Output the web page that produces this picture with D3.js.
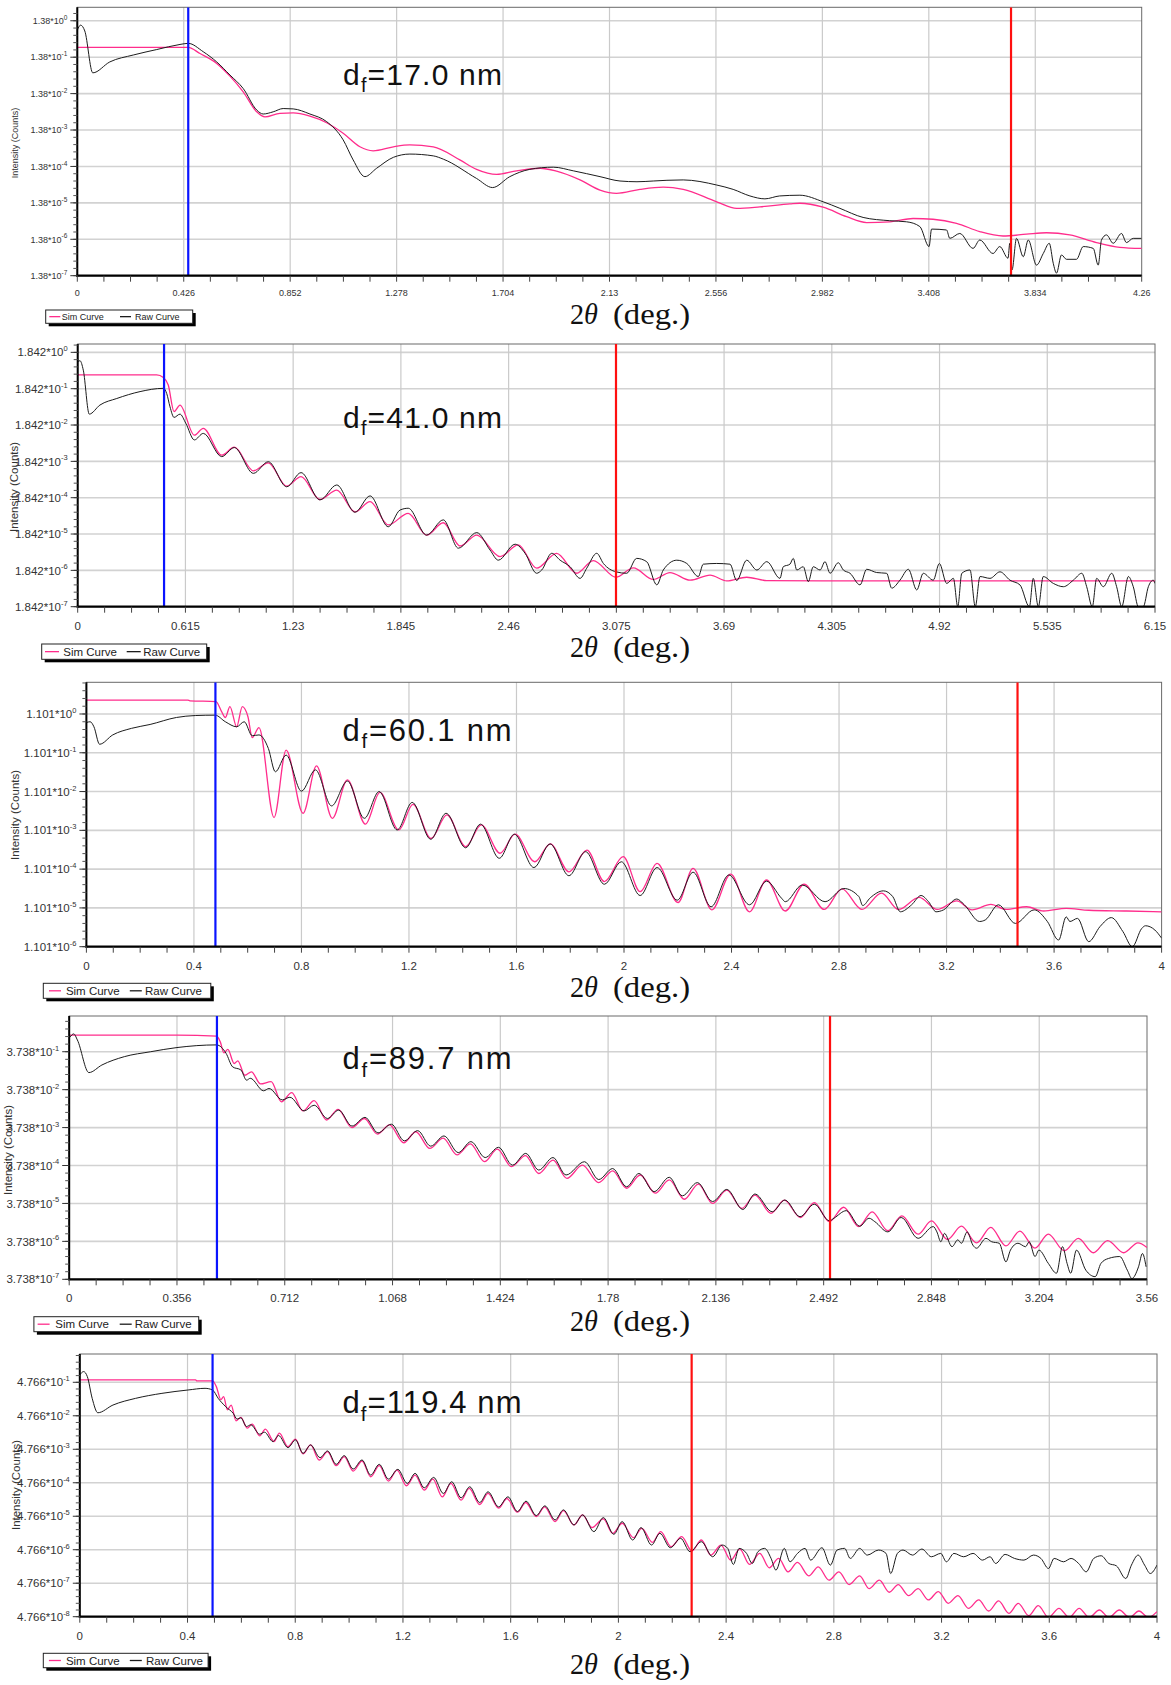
<!DOCTYPE html>
<html><head><meta charset="utf-8">
<script src="https://cdn.jsdelivr.net/npm/d3@7"></script>
<style>
body{margin:0;background:#fff}
svg{display:block}
text{font-family:"Liberation Sans",Arial,sans-serif}
</style>
</head><body>
<script>
// ---------- DATA (x = 2θ in deg, y = log10(I / base)) ----------
const dfValues = ["17.0", "41.0", "60.1", "89.7", "119.4"];
const yBases = ["1.38", "1.842", "1.101", "3.738", "4.766"];
const yExponents = [[0,-1,-2,-3,-4,-5,-6,-7],[0,-1,-2,-3,-4,-5,-6,-7],[0,-1,-2,-3,-4,-5,-6],[-1,-2,-3,-4,-5,-6,-7],[-1,-2,-3,-4,-5,-6,-7,-8]];
const xTickLabels = [
 ["0","0.426","0.852","1.278","1.704","2.13","2.556","2.982","3.408","3.834","4.26"],
 ["0","0.615","1.23","1.845","2.46","3.075","3.69","4.305","4.92","5.535","6.15"],
 ["0","0.4","0.8","1.2","1.6","2","2.4","2.8","3.2","3.6","4"],
 ["0","0.356","0.712","1.068","1.424","1.78","2.136","2.492","2.848","3.204","3.56"],
 ["0","0.4","0.8","1.2","1.6","2","2.4","2.8","3.2","3.6","4"]
];
const blueMarkers = [0.444, 0.493, 0.480, 0.488, 0.493];
const redMarkers = [3.737, 3.073, 3.464, 2.513, 2.272];

const p1Sim = [[0,-0.73],[0.444,-0.73],[0.491,-0.90],[0.558,-1.17],[0.611,-1.52],[0.664,-1.95],[0.718,-2.50],[0.751,-2.64],[0.811,-2.54],[0.864,-2.53],[0.931,-2.62],[0.998,-2.80],[1.064,-3.09],[1.131,-3.46],[1.184,-3.57],[1.265,-3.46],[1.331,-3.41],[1.425,-3.46],[1.531,-3.82],[1.598,-4.08],[1.678,-4.22],[1.758,-4.12],[1.852,-4.05],[1.918,-4.13],[2.012,-4.37],[2.092,-4.65],[2.158,-4.74],[2.252,-4.63],[2.345,-4.57],[2.425,-4.63],[2.559,-4.97],[2.639,-5.15],[2.732,-5.11],[2.852,-5.03],[2.892,-5.01],[2.985,-5.12],[3.079,-5.38],[3.159,-5.54],[3.252,-5.52],[3.345,-5.43],[3.425,-5.45],[3.519,-5.56],[3.612,-5.79],[3.705,-5.91],[3.799,-5.86],[3.879,-5.82],[3.972,-5.88],[4.079,-6.09],[4.172,-6.22],[4.26,-6.25]];
const p1Raw = [[0,-0.26],[0.013,-0.12],[0.03,-0.28],[0.062,-1.43],[0.13,-1.13],[0.224,-0.94],[0.318,-0.79],[0.411,-0.65],[0.444,-0.62],[0.504,-0.85],[0.558,-1.13],[0.611,-1.49],[0.664,-1.86],[0.718,-2.45],[0.744,-2.56],[0.784,-2.50],[0.824,-2.41],[0.864,-2.42],[0.931,-2.56],[0.998,-2.77],[1.064,-3.27],[1.104,-3.82],[1.151,-4.28],[1.198,-4.05],[1.265,-3.75],[1.331,-3.66],[1.425,-3.71],[1.465,-3.80],[1.598,-4.33],[1.662,-4.58],[1.731,-4.28],[1.811,-4.08],[1.905,-4.02],[1.985,-4.12],[2.092,-4.28],[2.172,-4.40],[2.24,-4.42],[2.305,-4.40],[2.36,-4.38],[2.425,-4.37],[2.559,-4.51],[2.625,-4.63],[2.692,-4.81],[2.752,-4.89],[2.811,-4.81],[2.892,-4.79],[2.985,-4.97],[3.052,-5.15],[3.145,-5.40],[3.252,-5.49],[3.319,-5.52],[3.372,-5.65],[3.409,-6.20],[3.419,-5.72],[3.479,-5.745],[3.492,-5.975],[3.532,-5.84],[3.585,-6.25],[3.612,-6.02],[3.665,-6.39],[3.692,-6.20],[3.725,-6.52],[3.732,-6.11],[3.741,-6.84],[3.759,-5.975],[3.786,-6.48],[3.806,-6.02],[3.839,-6.71],[3.866,-6.39],[3.890,-6.11],[3.906,-6.66],[3.919,-6.93],[3.939,-6.43],[3.959,-6.55],[3.999,-6.55],[4.026,-6.20],[4.066,-6.25],[4.086,-6.71],[4.099,-6.02],[4.119,-5.88],[4.146,-6.11],[4.179,-5.84],[4.199,-6.09],[4.226,-5.975],[4.259,-5.975]];

const p2Sim = [[0,-0.62],[0.451,-0.62],[0.489,-0.69],[0.517,-0.90],[0.55,-1.63],[0.584,-1.45],[0.666,-2.28],[0.717,-2.09],[0.822,-2.83],[0.894,-2.61],[1.003,-3.26],[1.088,-3.04],[1.193,-3.68],[1.275,-3.42],[1.383,-4.05],[1.479,-3.79],[1.583,-4.39],[1.669,-4.11],[1.773,-4.75],[1.887,-4.43],[1.992,-5.03],[2.087,-4.69],[2.183,-5.33],[2.278,-5.03],[2.411,-5.62],[2.515,-5.30],[2.62,-5.94],[2.734,-5.53],[2.849,-6.08],[2.943,-5.73],[3.073,-6.19],[3.172,-5.93],[3.286,-6.25],[3.381,-6.06],[3.496,-6.27],[3.61,-6.13],[3.705,-6.29],[3.819,-6.19],[3.934,-6.28],[4.3,-6.29],[5.0,-6.29],[6.15,-6.29]];
const p2Raw = [[0,-0.26],[0.013,-0.23],[0.032,-0.49],[0.066,-1.70],[0.127,-1.45],[0.223,-1.27],[0.356,-1.08],[0.489,-0.99],[0.508,-1.13],[0.527,-1.50],[0.55,-1.79],[0.584,-1.70],[0.617,-1.95],[0.666,-2.41],[0.717,-2.23],[0.822,-2.87],[0.894,-2.62],[1.003,-3.33],[1.088,-3.01],[1.193,-3.70],[1.275,-3.31],[1.383,-4.06],[1.479,-3.65],[1.583,-4.40],[1.669,-3.95],[1.773,-4.80],[1.84,-4.34],[1.887,-4.29],[1.992,-5.03],[2.087,-4.61],[2.173,-5.39],[2.278,-4.96],[2.354,-5.44],[2.401,-5.72],[2.497,-5.28],[2.554,-5.53],[2.62,-6.08],[2.649,-5.99],[2.706,-5.53],[2.754,-5.72],[2.811,-5.90],[2.868,-6.22],[2.906,-5.94],[2.963,-5.53],[3.001,-5.81],[3.073,-6.04],[3.134,-6.08],[3.191,-5.67],[3.248,-5.76],[3.306,-6.40],[3.343,-5.99],[3.42,-5.72],[3.477,-5.81],[3.543,-6.17],[3.571,-5.83],[3.648,-5.81],[3.724,-5.83],[3.762,-6.28],[3.819,-5.72],[3.877,-5.99],[3.934,-5.76],[4.009,-6.22],[4.028,-5.90],[4.066,-5.83],[4.085,-5.67],[4.105,-5.99],[4.142,-5.90],[4.171,-6.31],[4.199,-5.90],[4.238,-5.99],[4.266,-5.76],[4.295,-6.08],[4.342,-5.79],[4.371,-5.99],[4.409,-6.08],[4.466,-6.40],[4.504,-5.97],[4.561,-6.06],[4.618,-6.08],[4.647,-6.49],[4.694,-6.27],[4.742,-5.97],[4.79,-6.54],[4.827,-6.08],[4.884,-6.27],[4.919,-5.81],[4.961,-6.36],[4.999,-6.22],[5.024,-7.0],[5.047,-6.08],[5.094,-5.99],[5.124,-7.0],[5.151,-6.17],[5.208,-6.22],[5.265,-6.04],[5.322,-6.27],[5.379,-6.40],[5.433,-7.0],[5.455,-6.22],[5.484,-7.0],[5.512,-6.17],[5.57,-6.36],[5.627,-6.45],[5.684,-6.27],[5.732,-6.08],[5.76,-6.45],[5.792,-7.0],[5.817,-6.22],[5.855,-6.45],[5.903,-6.08],[5.931,-6.45],[5.96,-7.0],[5.998,-6.17],[6.026,-6.45],[6.055,-7.0],[6.083,-7.0],[6.112,-6.45],[6.14,-6.27],[6.15,-6.36]];

const p3Sim = [[0,0.36],[0.377,0.36],[0.385,0.34],[0.482,0.32],[0.503,0.06],[0.517,-0.09],[0.534,0.19],[0.559,-0.33],[0.580,0.19],[0.601,-0.07],[0.617,-0.61],[0.642,-0.35],[0.698,-2.67],[0.743,-0.93],[0.806,-2.56],[0.856,-1.34],[0.915,-2.69],[0.971,-1.70],[1.038,-2.84],[1.092,-2.02],[1.162,-2.99],[1.215,-2.33],[1.282,-3.21],[1.341,-2.60],[1.411,-3.42],[1.469,-2.86],[1.539,-3.59],[1.595,-3.10],[1.668,-3.81],[1.726,-3.35],[1.795,-4.07],[1.862,-3.51],[1.927,-4.32],[1.997,-3.68],[2.060,-4.58],[2.123,-3.85],[2.201,-4.86],[2.257,-3.98],[2.327,-5.05],[2.397,-4.13],[2.467,-5.10],[2.530,-4.28],[2.600,-5.08],[2.670,-4.39],[2.745,-5.04],[2.811,-4.51],[2.885,-5.04],[2.958,-4.62],[3.021,-5.04],[3.098,-4.73],[3.165,-5.04],[3.238,-4.82],[3.295,-5.05],[3.365,-4.91],[3.421,-5.04],[3.498,-4.97],[3.561,-5.08],[3.645,-5.01],[3.729,-5.06],[3.870,-5.08],[4.0,-5.10]];
const p3Raw = [[0,-0.22],[0.014,-0.20],[0.028,-0.33],[0.049,-0.78],[0.098,-0.54],[0.168,-0.37],[0.237,-0.27],[0.335,-0.09],[0.405,-0.04],[0.479,-0.03],[0.517,-0.20],[0.559,-0.33],[0.587,-0.20],[0.617,-0.56],[0.642,-0.54],[0.677,-0.89],[0.703,-1.49],[0.743,-1.06],[0.800,-1.99],[0.852,-1.44],[0.912,-2.37],[0.971,-1.73],[1.034,-2.69],[1.089,-2.00],[1.156,-2.99],[1.212,-2.28],[1.281,-3.23],[1.338,-2.56],[1.411,-3.45],[1.466,-2.84],[1.536,-3.72],[1.592,-3.10],[1.665,-3.96],[1.725,-3.35],[1.795,-4.17],[1.857,-3.55],[1.927,-4.39],[1.990,-3.81],[2.060,-4.68],[2.123,-3.96],[2.198,-4.80],[2.257,-4.08],[2.324,-4.97],[2.390,-4.15],[2.467,-4.92],[2.530,-4.31],[2.586,-4.75],[2.600,-4.84],[2.663,-4.41],[2.748,-4.84],[2.818,-4.50],[2.874,-4.71],[2.888,-4.94],[2.916,-4.74],[2.965,-4.56],[3.000,-4.71],[3.028,-5.10],[3.070,-4.92],[3.105,-4.68],[3.133,-4.84],[3.161,-5.10],[3.189,-5.05],[3.238,-4.77],[3.266,-4.92],[3.323,-5.35],[3.344,-5.31],[3.393,-4.92],[3.456,-5.40],[3.526,-5.05],[3.575,-5.35],[3.617,-5.83],[3.645,-5.23],[3.659,-5.35],[3.687,-5.27],[3.729,-5.87],[3.771,-5.48],[3.813,-5.25],[3.856,-5.61],[3.891,-6.0],[3.926,-5.53],[3.940,-5.46],[3.975,-5.57],[4.0,-5.78]];

const p4Sim = [[0,-0.56],[0.356,-0.56],[0.487,-0.59],[0.499,-0.74],[0.511,-1.03],[0.524,-0.94],[0.545,-1.31],[0.557,-1.24],[0.580,-1.62],[0.602,-1.53],[0.632,-1.85],[0.667,-1.79],[0.701,-2.32],[0.735,-2.08],[0.772,-2.56],[0.809,-2.29],[0.850,-2.80],[0.888,-2.52],[0.934,-3.0],[0.975,-2.76],[1.018,-3.17],[1.058,-2.93],[1.105,-3.40],[1.145,-3.11],[1.191,-3.55],[1.235,-3.28],[1.281,-3.72],[1.325,-3.43],[1.372,-3.90],[1.414,-3.57],[1.461,-4.03],[1.507,-3.74],[1.551,-4.21],[1.598,-3.86],[1.644,-4.34],[1.695,-3.99],[1.749,-4.45],[1.795,-4.14],[1.841,-4.60],[1.886,-4.25],[1.936,-4.73],[1.982,-4.38],[2.032,-4.89],[2.078,-4.49],[2.125,-5.0],[2.172,-4.65],[2.222,-5.13],[2.265,-4.78],[2.318,-5.26],[2.362,-4.91],[2.415,-5.37],[2.461,-4.98],[2.511,-5.48],[2.558,-5.10],[2.608,-5.61],[2.652,-5.22],[2.704,-5.72],[2.750,-5.33],[2.804,-5.81],[2.848,-5.46],[2.901,-5.95],[2.947,-5.60],[2.997,-6.04],[3.044,-5.63],[3.094,-6.12],[3.140,-5.73],[3.190,-6.18],[3.234,-5.81],[3.287,-6.25],[3.333,-5.92],[3.383,-6.30],[3.430,-5.98],[3.483,-6.30],[3.530,-6.04],[3.560,-6.16]];
const p4Raw = [[0.002,-0.62],[0.015,-0.53],[0.027,-0.69],[0.065,-1.55],[0.108,-1.35],[0.182,-1.13],[0.269,-1.0],[0.356,-0.89],[0.487,-0.82],[0.518,-1.04],[0.540,-1.40],[0.567,-1.48],[0.586,-1.75],[0.598,-1.70],[0.642,-2.03],[0.660,-1.97],[0.704,-2.27],[0.729,-2.20],[0.776,-2.56],[0.809,-2.41],[0.853,-2.76],[0.890,-2.54],[0.934,-2.96],[0.977,-2.73],[1.020,-3.14],[1.064,-2.91],[1.107,-3.35],[1.151,-3.08],[1.194,-3.49],[1.238,-3.22],[1.285,-3.66],[1.327,-3.37],[1.374,-3.79],[1.418,-3.52],[1.464,-3.99],[1.508,-3.68],[1.551,-4.12],[1.598,-3.79],[1.641,-4.25],[1.702,-3.90],[1.749,-4.37],[1.795,-4.08],[1.841,-4.56],[1.882,-4.21],[1.932,-4.69],[1.982,-4.31],[2.025,-4.80],[2.075,-4.45],[2.125,-4.95],[2.172,-4.63],[2.225,-5.16],[2.265,-4.75],[2.322,-5.22],[2.364,-4.91],[2.414,-5.35],[2.461,-5.02],[2.511,-5.46],[2.526,-5.39],[2.567,-5.19],[2.611,-5.60],[2.642,-5.39],[2.661,-5.48],[2.704,-5.75],[2.748,-5.37],[2.804,-5.92],[2.854,-5.61],[2.866,-5.75],[2.879,-6.01],[2.891,-5.79],[2.916,-6.14],[2.935,-5.96],[2.947,-6.05],[2.966,-5.75],[2.985,-6.10],[2.997,-6.18],[3.028,-5.92],[3.047,-6.01],[3.072,-6.05],[3.094,-6.54],[3.109,-6.23],[3.134,-6.05],[3.159,-6.14],[3.171,-6.01],[3.190,-6.40],[3.203,-6.23],[3.234,-6.58],[3.261,-6.84],[3.281,-6.14],[3.296,-6.58],[3.308,-6.84],[3.327,-6.23],[3.358,-6.76],[3.389,-6.93],[3.408,-6.58],[3.433,-6.45],[3.470,-6.40],[3.495,-6.76],[3.510,-6.98],[3.532,-6.67],[3.545,-6.32],[3.557,-6.67]];

const p5Sim = [[0,-0.93],[0.430,-0.93],[0.435,-0.96],[0.493,-0.96],[0.507,-1.13],[0.524,-1.52],[0.534,-1.43],[0.548,-1.82],[0.562,-1.68],[0.580,-2.15],[0.598,-2.05],[0.622,-2.37],[0.640,-2.25],[0.668,-2.60],[0.689,-2.40],[0.721,-2.77],[0.741,-2.52],[0.773,-2.92],[0.801,-2.70],[0.829,-3.14],[0.857,-2.87],[0.889,-3.32],[0.920,-3.07],[0.952,-3.49],[0.982,-3.22],[1.015,-3.65],[1.048,-3.35],[1.080,-3.82],[1.112,-3.49],[1.146,-3.95],[1.178,-3.62],[1.213,-4.09],[1.245,-3.77],[1.279,-4.22],[1.311,-3.89],[1.346,-4.42],[1.378,-4.02],[1.416,-4.52],[1.446,-4.17],[1.485,-4.65],[1.516,-4.32],[1.555,-4.76],[1.586,-4.47],[1.625,-4.88],[1.656,-4.59],[1.695,-5.01],[1.726,-4.72],[1.765,-5.16],[1.796,-4.83],[1.835,-5.26],[1.867,-4.96],[1.902,-5.34],[1.944,-5.08],[1.979,-5.51],[2.014,-5.21],[2.056,-5.64],[2.087,-5.36],[2.126,-5.78],[2.157,-5.46],[2.196,-5.91],[2.235,-5.61],[2.273,-6.04],[2.308,-5.71],[2.343,-6.16],[2.381,-5.86],[2.417,-6.31],[2.451,-5.98],[2.487,-6.44],[2.525,-6.11],[2.560,-6.54],[2.595,-6.26],[2.630,-6.66],[2.665,-6.38],[2.707,-6.78],[2.742,-6.51],[2.782,-6.91],[2.819,-6.66],[2.857,-7.04],[2.896,-6.78],[2.931,-7.16],[2.969,-6.91],[3.006,-7.27],[3.039,-7.04],[3.078,-7.37],[3.113,-7.16],[3.151,-7.50],[3.188,-7.25],[3.225,-7.60],[3.261,-7.37],[3.300,-7.75],[3.338,-7.50],[3.375,-7.83],[3.412,-7.53],[3.450,-7.90],[3.485,-7.60],[3.524,-7.97],[3.559,-7.67],[3.597,-8.02],[3.636,-7.75],[3.674,-8.02],[3.711,-7.75],[3.748,-8.02],[3.786,-7.80],[3.821,-8.02],[3.860,-7.80],[3.898,-8.02],[3.933,-7.83],[3.968,-8.02],[4.0,-7.85]];
const p5Raw = [[0,-0.78],[0.014,-0.68],[0.028,-0.83],[0.046,-1.48],[0.067,-1.91],[0.123,-1.68],[0.207,-1.48],[0.305,-1.33],[0.402,-1.23],[0.465,-1.18],[0.493,-1.23],[0.514,-1.48],[0.542,-1.73],[0.570,-1.93],[0.584,-2.10],[0.598,-2.06],[0.619,-2.32],[0.635,-2.27],[0.668,-2.55],[0.686,-2.49],[0.717,-2.77],[0.738,-2.59],[0.773,-2.95],[0.801,-2.72],[0.829,-3.12],[0.857,-2.87],[0.892,-3.25],[0.920,-3.05],[0.952,-3.45],[0.982,-3.19],[1.015,-3.59],[1.048,-3.32],[1.080,-3.77],[1.112,-3.45],[1.146,-3.89],[1.181,-3.60],[1.216,-4.02],[1.245,-3.72],[1.279,-4.15],[1.314,-3.84],[1.350,-4.32],[1.381,-3.97],[1.416,-4.45],[1.448,-4.12],[1.485,-4.59],[1.516,-4.27],[1.555,-4.72],[1.590,-4.42],[1.625,-4.86],[1.657,-4.55],[1.695,-4.98],[1.727,-4.69],[1.765,-5.11],[1.796,-4.81],[1.835,-5.26],[1.867,-4.96],[1.909,-5.46],[1.944,-5.04],[1.983,-5.54],[2.014,-5.16],[2.053,-5.71],[2.084,-5.34],[2.123,-5.86],[2.154,-5.51],[2.193,-5.94],[2.231,-5.66],[2.266,-6.06],[2.308,-5.76],[2.350,-6.21],[2.385,-5.86],[2.406,-5.96],[2.427,-6.44],[2.448,-5.96],[2.476,-6.11],[2.497,-6.41],[2.518,-6.06],[2.543,-5.96],[2.567,-6.26],[2.585,-6.61],[2.616,-5.96],[2.637,-6.36],[2.665,-6.11],[2.693,-5.96],[2.714,-6.31],[2.756,-5.94],[2.787,-6.46],[2.812,-6.01],[2.840,-5.96],[2.861,-6.26],[2.896,-5.96],[2.924,-6.16],[2.966,-6.01],[2.994,-6.11],[3.011,-6.71],[3.036,-6.11],[3.057,-6.01],[3.092,-6.16],[3.127,-5.98],[3.162,-6.21],[3.197,-6.11],[3.218,-6.36],[3.246,-6.11],[3.282,-6.21],[3.317,-6.11],[3.352,-6.31],[3.380,-6.21],[3.401,-6.41],[3.436,-6.14],[3.471,-6.26],[3.506,-6.31],[3.541,-6.16],[3.569,-6.26],[3.597,-6.56],[3.618,-6.26],[3.653,-6.36],[3.681,-6.26],[3.709,-6.41],[3.737,-6.66],[3.765,-6.26],[3.793,-6.18],[3.821,-6.41],[3.849,-6.48],[3.884,-6.86],[3.905,-6.46],[3.930,-6.16],[3.954,-6.46],[3.975,-6.71],[4.0,-6.46]];

const simSeries = [p1Sim, p2Sim, p3Sim, p4Sim, p5Sim];
const rawSeries = [p1Raw, p2Raw, p3Raw, p4Raw, p5Raw];

// ---------- LAYOUT ----------
const layouts = [
 {left:77.3, right:1141.7, top:7.3, bottom:275.7, eTop:0.37, fs:9, sup:6.5, ytx:15, yty:143,
  leg:{x:45.7,y:310,w:147,h:13.3, l1:49.3, t1:61.7, l2:120, t2:135, ll:11},
  df:{x:343, y:85, w:159, fs:30}, xl:{y:324}, xlab:17.5},
 {left:77.7, right:1155, top:344, bottom:606.7, eTop:0.23, fs:11.5, sup:7.5, ytx:14, yty:487,
  leg:{x:41.7,y:644,w:165,h:15.3, l1:45, t1:63.3, l2:126.7, t2:143.3, ll:14},
  df:{x:343, y:428, w:159, fs:30}, xl:{y:657}, xlab:19},
 {left:86.4, right:1161.6, top:682.3, bottom:946.7, eTop:0.817, fs:11.5, sup:7.5, ytx:15, yty:815,
  leg:{x:43.3,y:983.3,w:167.5,h:15, l1:49, t1:65.9, l2:129.8, t2:145, ll:12},
  df:{x:342.5, y:740.7, w:169, fs:31}, xl:{y:997}, xlab:19},
 {left:69.2, right:1147, top:1016, bottom:1279.3, eTop:-0.058, fs:11.5, sup:7.5, ytx:8, yty:1150,
  leg:{x:33.9,y:1316.7,w:164.8,h:15, l1:37.6, t1:55.3, l2:119.7, t2:134.7, ll:12},
  df:{x:342.5, y:1069.3, w:169, fs:31}, xl:{y:1330.5}, xlab:19},
 {left:79.8, right:1157, top:1354, bottom:1616.7, eTop:-0.155, fs:11.5, sup:7.5, ytx:16, yty:1485,
  leg:{x:43.3,y:1653.3,w:164.8,h:14.4, l1:48.9, t1:65.9, l2:129.8, t2:146, ll:12},
  df:{x:342.5, y:1413.3, w:179, fs:31}, xl:{y:1673.5}, xlab:19}
];

const SIM_COLOR = "#ff2d8c", RAW_COLOR = "#1c1c1c";

const svg = d3.select("body").append("svg").attr("width", 1171).attr("height", 1685);

layouts.forEach((L, i) => {
  const base = +yBases[i];
  const exps = yExponents[i];
  const eMin = d3.min(exps);
  const xt = xTickLabels[i].map(Number);
  const xMax = d3.max(xt);
  const x = d3.scaleLinear().domain([0, xMax]).range([L.left, L.right]);
  const y = d3.scaleLog().domain([base * Math.pow(10, eMin), base * Math.pow(10, L.eTop)]).range([L.bottom, L.top]);
  const g = svg.append("g");

  // grid
  g.append("g").selectAll("line").data(exps.filter(e => e !== eMin)).join("line")
    .attr("x1", L.left).attr("x2", L.right)
    .attr("y1", e => y(base * Math.pow(10, e))).attr("y2", e => y(base * Math.pow(10, e)))
    .attr("stroke", "#d2d2d2").attr("stroke-width", 1.6);
  g.append("g").selectAll("line").data(xt.slice(1, -1)).join("line")
    .attr("x1", d => x(d)).attr("x2", d => x(d)).attr("y1", L.top).attr("y2", L.bottom)
    .attr("stroke", "#cacaca").attr("stroke-width", 1.2);

  // frame
  g.append("rect").attr("x", L.left).attr("y", L.top).attr("width", L.right - L.left).attr("height", L.bottom - L.top)
    .attr("fill", "none").attr("stroke", "#6a6a6a").attr("stroke-width", 1);

  // clip
  const cid = "clip" + i;
  svg.append("clipPath").attr("id", cid).append("rect")
    .attr("x", L.left).attr("y", L.top).attr("width", L.right - L.left).attr("height", L.bottom - L.top);

  const line = d3.line().x(d => x(d[0])).y(d => y(base * Math.pow(10, d[1]))).curve(d3.curveMonotoneX);
  const plot = g.append("g").attr("clip-path", `url(#${cid})`);
  plot.append("path").datum(simSeries[i]).attr("d", line).attr("fill", "none")
    .attr("stroke", SIM_COLOR).attr("stroke-width", 1.3);
  plot.append("path").datum(rawSeries[i]).attr("d", line).attr("fill", "none")
    .attr("stroke", RAW_COLOR).attr("stroke-width", 1);

  // markers
  plot.append("line").attr("x1", x(blueMarkers[i])).attr("x2", x(blueMarkers[i])).attr("y1", L.top).attr("y2", L.bottom)
    .attr("stroke", "#0a14ff").attr("stroke-width", 2.2);
  plot.append("line").attr("x1", x(redMarkers[i])).attr("x2", x(redMarkers[i])).attr("y1", L.top).attr("y2", L.bottom)
    .attr("stroke", "#ff1010").attr("stroke-width", 2.2);

  // axes lines
  g.append("line").attr("x1", L.left).attr("x2", L.left).attr("y1", L.top).attr("y2", L.bottom + 1)
    .attr("stroke", "#000").attr("stroke-width", 2);
  g.append("line").attr("x1", L.left - 1).attr("x2", L.right).attr("y1", L.bottom).attr("y2", L.bottom)
    .attr("stroke", "#000").attr("stroke-width", 2.2);

  // x ticks (major + minor)
  const step = xt[1] - xt[0];
  const minor = d3.range(0, 41).map(k => k * step / 4).filter(v => v <= xMax + 1e-9);
  g.append("g").selectAll("line").data(minor).join("line")
    .attr("x1", d => x(d)).attr("x2", d => x(d)).attr("y1", L.bottom).attr("y2", L.bottom + 6)
    .attr("stroke", "#444").attr("stroke-width", 1);
  g.append("g").selectAll("text").data(xTickLabels[i]).join("text")
    .attr("x", d => x(+d)).attr("y", L.bottom + L.xlab)
    .attr("text-anchor", "middle").attr("dominant-baseline", "central")
    .attr("font-size", L.fs).attr("fill", "#333").text(d => d);

  // y ticks
  const minorY = [];
  for (let e = eMin; e < L.eTop; e += 0.2) minorY.push(Math.round(e * 10) / 10);
  g.append("g").selectAll("line").data(minorY.filter(e => e <= L.eTop)).join("line")
    .attr("x1", L.left - 4).attr("x2", L.left)
    .attr("y1", e => y(base * Math.pow(10, e))).attr("y2", e => y(base * Math.pow(10, e)))
    .attr("stroke", "#555").attr("stroke-width", 1);
  g.append("g").selectAll("line").data(exps).join("line")
    .attr("x1", L.left - 7).attr("x2", L.left)
    .attr("y1", e => y(base * Math.pow(10, e))).attr("y2", e => y(base * Math.pow(10, e)))
    .attr("stroke", "#333").attr("stroke-width", 1);
  const yl = g.append("g").selectAll("text").data(exps).join("text")
    .attr("x", L.left - 10).attr("y", e => y(base * Math.pow(10, e)) + L.fs * 0.36)
    .attr("text-anchor", "end").attr("font-size", L.fs).attr("fill", "#333");
  yl.append("tspan").text(yBases[i] + "*10");
  yl.append("tspan").attr("dy", -L.fs * 0.45).attr("font-size", L.sup).text(e => String(e));

  // y title
  g.append("text").attr("transform", `translate(${L.ytx},${L.yty}) rotate(-90)`)
    .attr("text-anchor", "middle").attr("dominant-baseline", "central")
    .attr("font-size", L.fs).attr("fill", "#333").text("Intensity (Counts)");

  // df label
  const t = g.append("text").attr("x", L.df.x).attr("y", L.df.y).attr("font-size", L.df.fs)
    .attr("fill", "#111").attr("textLength", L.df.w).attr("lengthAdjust", "spacing");
  t.append("tspan").text("d");
  t.append("tspan").attr("font-size", L.df.fs * 0.66).attr("dy", L.df.fs * 0.24).text("f");
  t.append("tspan").attr("dy", -L.df.fs * 0.24).text("=" + dfValues[i] + " nm");

  // x axis title
  const xl = g.append("g").attr("fill", "#111");
  const a = xl.append("text").attr("x", 570).attr("y", L.xl.y).attr("font-size", 30)
    .attr("textLength", 28).attr("lengthAdjust", "spacingAndGlyphs")
    .style("font-family", "'Liberation Serif','Times New Roman',serif");
  a.append("tspan").text("2");
  a.append("tspan").attr("font-style", "italic").text("θ");
  xl.append("text").attr("x", 613).attr("y", L.xl.y).attr("font-size", 30)
    .attr("textLength", 77).attr("lengthAdjust", "spacingAndGlyphs")
    .style("font-family", "'Liberation Serif','Times New Roman',serif").text("(deg.)");

  // legend
  const lg = L.leg;
  g.append("rect").attr("x", lg.x + 3).attr("y", lg.y + 3).attr("width", lg.w).attr("height", lg.h).attr("fill", "#000");
  g.append("rect").attr("x", lg.x).attr("y", lg.y).attr("width", lg.w).attr("height", lg.h)
    .attr("fill", "#fff").attr("stroke", "#222").attr("stroke-width", 1);
  const cy = lg.y + lg.h / 2;
  g.append("line").attr("x1", lg.l1).attr("x2", lg.l1 + lg.ll).attr("y1", cy).attr("y2", cy).attr("stroke", SIM_COLOR).attr("stroke-width", 1.3);
  g.append("text").attr("x", lg.t1).attr("y", cy).attr("dominant-baseline", "central").attr("font-size", L.fs).attr("fill", "#222").text("Sim Curve");
  g.append("line").attr("x1", lg.l2).attr("x2", lg.l2 + lg.ll).attr("y1", cy).attr("y2", cy).attr("stroke", RAW_COLOR).attr("stroke-width", 1.3);
  g.append("text").attr("x", lg.t2).attr("y", cy).attr("dominant-baseline", "central").attr("font-size", L.fs).attr("fill", "#222").text("Raw Curve");
});
</script>
</body></html>
